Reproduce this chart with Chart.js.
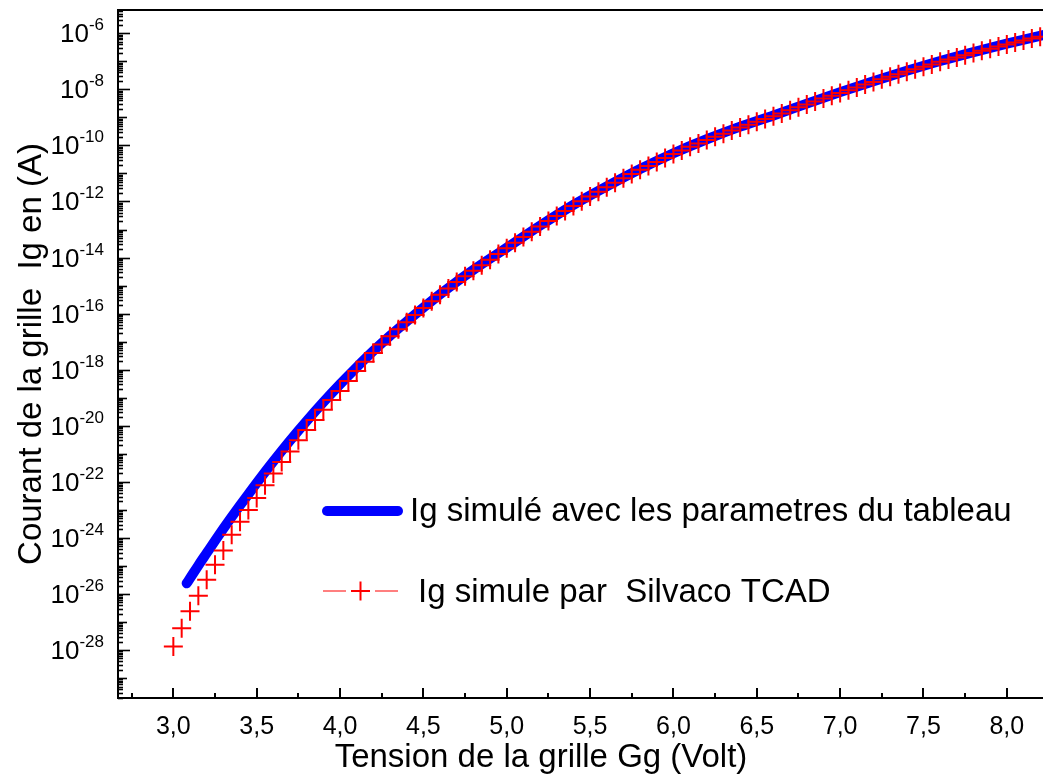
<!DOCTYPE html>
<html>
<head>
<meta charset="utf-8">
<script src="https://cdn.jsdelivr.net/npm/chart.js@4/dist/chart.umd.min.js"></script>
<style>
  html, body { margin: 0; padding: 0; background: #fff; }
  #wrap { width: 1043px; height: 781px; position: relative; }
</style>
</head>
<body>
<div id="wrap"><canvas id="myChart"></canvas></div>
<script>
const ctx = document.getElementById('myChart');

// Silvaco TCAD points (red crosses): gate voltage and log10 of the current
var silvacoV = [3.00, 3.05, 3.10, 3.15, 3.20, 3.25, 3.30, 3.35, 3.40, 3.45,
    3.50, 3.55, 3.60, 3.65, 3.70, 3.75, 3.80, 3.85, 3.90, 3.95,
    4.00, 4.05, 4.10, 4.15, 4.20, 4.25, 4.30, 4.35, 4.40, 4.45,
    4.50, 4.55, 4.60, 4.65, 4.70, 4.75, 4.80, 4.85, 4.90, 4.95,
    5.00, 5.05, 5.10, 5.15, 5.20, 5.25, 5.30, 5.35, 5.40, 5.45,
    5.50, 5.55, 5.60, 5.65, 5.70, 5.75, 5.80, 5.85, 5.90, 5.95,
    6.00, 6.05, 6.10, 6.15, 6.20, 6.25, 6.30, 6.35, 6.40, 6.45,
    6.50, 6.55, 6.60, 6.65, 6.70, 6.75, 6.80, 6.85, 6.90, 6.95,
    7.00, 7.05, 7.10, 7.15, 7.20, 7.25, 7.30, 7.35, 7.40, 7.45,
    7.50, 7.55, 7.60, 7.65, 7.70, 7.75, 7.80, 7.85, 7.90, 7.95,
    8.00, 8.05, 8.10, 8.15, 8.20];
var silvacoExp = [-27.87, -27.22, -26.62, -26.06, -25.49, -24.96, -24.45, -23.89, -23.42, -23.00,
    -22.58, -22.12, -21.70, -21.29, -20.92, -20.52, -20.15, -19.79, -19.43, -19.08,
    -18.76, -18.40, -18.05, -17.72, -17.40, -17.10, -16.81, -16.56, -16.31, -16.05,
    -15.80, -15.56, -15.33, -15.10, -14.87, -14.67, -14.47, -14.27, -14.08, -13.87,
    -13.67, -13.47, -13.27, -13.08, -12.89, -12.70, -12.52, -12.34, -12.16, -11.99,
    -11.82, -11.65, -11.49, -11.33, -11.17, -11.02, -10.87, -10.73, -10.59, -10.45,
    -10.31, -10.18, -10.05, -9.93, -9.81, -9.69, -9.58, -9.47, -9.36, -9.26,
    -9.16, -9.06, -8.96, -8.86, -8.75, -8.64, -8.54, -8.43, -8.33, -8.23,
    -8.13, -8.03, -7.93, -7.83, -7.74, -7.64, -7.55, -7.46, -7.37, -7.28,
    -7.19, -7.11, -7.02, -6.94, -6.86, -6.78, -6.70, -6.62, -6.55, -6.47,
    -6.40, -6.33, -6.26, -6.19, -6.12];

// model curve (blue line)
var modelV = [3.08, 3.10, 3.15, 3.20, 3.25, 3.30, 3.35, 3.40, 3.45, 3.50,
    3.60, 3.70, 3.80, 3.90, 4.00, 4.10, 4.20, 4.30, 4.40,
    4.50, 4.60, 4.70, 4.80, 4.90, 5.00, 5.20, 5.40, 5.60, 5.80,
    6.00, 6.20, 6.40, 6.60, 6.80, 7.00, 7.20, 7.40, 7.60, 7.80,
    8.00, 8.25];
var modelExp = [-25.62, -25.44, -24.98, -24.54, -24.10, -23.67, -23.25, -22.84, -22.44, -22.04,
    -21.27, -20.53, -19.83, -19.16, -18.52, -17.91, -17.33, -16.79, -16.28,
    -15.79, -15.31, -14.86, -14.44, -14.04, -13.65, -12.86, -12.12, -11.46, -10.84,
    -10.28, -9.78, -9.33, -8.93, -8.51, -8.10, -7.71, -7.34, -6.99, -6.67,
    -6.37, -6.02];

var xTicks = [3.0, 3.5, 4.0, 4.5, 5.0, 5.5, 6.0, 6.5, 7.0, 7.5, 8.0];
var yLabelExp = [-28, -26, -24, -22, -20, -18, -16, -14, -12, -10, -8, -6];

var xTitle = 'Tension de la grille Gg (Volt)';
var yTitle = 'Courant de la grille  Ig en (A)';
var legendLabels = ['Ig simulé avec les parametres du tableau', 'Ig simule par  Silvaco TCAD'];

var FONT = "'Liberation Sans', Arial, sans-serif";

function toPoints(xs, es) {
    return xs.map(function (v, i) { return { x: v, y: Math.pow(10, es[i]) }; });
}

// ticks inside the frame, superscript y labels, top line, x title and legend
const decorations = {
    id: 'decorations',
    afterDraw: function (chart) {
        var c = chart.ctx;
        var area = chart.chartArea;
        var xs = chart.scales.x, ys = chart.scales.y;
        c.save();
        c.strokeStyle = '#000';
        c.lineWidth = 2;
        c.beginPath();
        c.moveTo(area.left - 1, area.top);
        c.lineTo(area.right, area.top);
        c.stroke();

        // y ticks (inward)
        c.lineWidth = 1.6;
        for (var e = -30; e <= -5; e++) {
            for (var k = 1; k <= 9; k++) {
                var val = k * Math.pow(10, e);
                if (val < ys.min || val > ys.max) continue;
                var py = Math.round(ys.getPixelForValue(val)) + 0.5;
                var len = k === 1 ? (e % 2 === 0 ? 12 : 9) : 5;
                c.beginPath();
                c.moveTo(area.left, py);
                c.lineTo(area.left + len, py);
                c.stroke();
            }
        }
        // x ticks (inward)
        c.lineWidth = 2;
        for (var t = 2.75; t <= 8.3; t += 0.25) {
            if (t < xs.min || t > xs.max) continue;
            var px = Math.round(xs.getPixelForValue(t));
            var major = Math.abs(t * 2 - Math.round(t * 2)) < 1e-6;
            c.beginPath();
            c.moveTo(px, area.bottom);
            c.lineTo(px, area.bottom - (major ? 10 : 5));
            c.stroke();
        }

        // y labels with superscript exponent
        c.fillStyle = '#000';
        c.textBaseline = 'alphabetic';
        c.textAlign = 'left';
        yLabelExp.forEach(function (ex) {
            var py = ys.getPixelForValue(Math.pow(10, ex));
            var sup = String(ex);
            c.font = '17px ' + FONT;
            var supW = c.measureText(sup).width;
            c.font = '26px ' + FONT;
            var baseW = c.measureText('10').width;
            var right = 104;
            c.fillText('10', right - supW - baseW, py + 9);
            c.font = '17px ' + FONT;
            c.fillText(sup, right - supW, py - 3);
        });

        // x axis title
        c.font = '33px ' + FONT;
        c.textAlign = 'center';
        c.textBaseline = 'middle';
        c.fillText(xTitle, 541, 758);

        // legend
        c.textAlign = 'left';
        var ds0 = chart.data.datasets[0], ds1 = chart.data.datasets[1];
        c.lineCap = 'round';
        c.strokeStyle = ds0.borderColor;
        c.lineWidth = ds0.borderWidth;
        c.beginPath();
        c.moveTo(327, 511);
        c.lineTo(398, 511);
        c.stroke();
        c.lineCap = 'butt';
        c.strokeStyle = ds1.pointBorderColor;
        c.lineWidth = 1.2;
        c.beginPath();
        c.moveTo(323, 591); c.lineTo(346, 591);
        c.moveTo(375, 591); c.lineTo(398, 591);
        c.stroke();
        c.lineWidth = ds1.pointBorderWidth;
        c.beginPath();
        c.moveTo(351, 591); c.lineTo(370, 591);
        c.moveTo(360.5, 581.5); c.lineTo(360.5, 600.5);
        c.stroke();
        c.fillText(legendLabels[0], 410, 512);
        c.fillText(legendLabels[1], 418, 593);
        c.restore();
    }
};

const chart = new Chart(ctx, {
    type: 'line',
    data: {
        datasets: [{
            label: legendLabels[0],
            data: toPoints(modelV, modelExp),
            borderColor: '#0000ff',
            borderWidth: 10,
            borderCapStyle: 'round',
            pointRadius: 0,
            cubicInterpolationMode: 'monotone',
            fill: false,
            order: 1
        }, {
            label: legendLabels[1],
            data: toPoints(silvacoV, silvacoExp),
            showLine: false,
            pointStyle: 'cross',
            pointRadius: 9.5,
            pointBorderColor: '#ff0000',
            pointBorderWidth: 2,
            pointBackgroundColor: '#ff0000',
            order: 0
        }]
    },
    options: {
        responsive: true,
        maintainAspectRatio: false,
        animation: false,
        layout: { autoPadding: false, padding: { top: 10, right: 0, left: 0, bottom: 0 } },
        plugins: {
            legend: { display: false },
            tooltip: { enabled: false }
        },
        scales: {
            x: {
                type: 'linear',
                min: 2.668,
                max: 8.217,
                grid: { display: false, drawTicks: false },
                border: { display: true, color: '#000', width: 2 },
                afterBuildTicks: function (scale) {
                    scale.ticks = xTicks.map(function (v) { return { value: v }; });
                },
                afterFit: function (scale) {
                    scale.height = 83;
                    scale.paddingLeft = 0;
                    scale.paddingRight = 0;
                },
                ticks: {
                    color: '#000',
                    font: { family: FONT, size: 25 },
                    padding: 14,
                    maxRotation: 0,
                    autoSkip: false,
                    callback: function (v) { return Number(v).toFixed(1).replace('.', ','); }
                },
                title: { display: false }
            },
            y: {
                type: 'logarithmic',
                min: Math.pow(10, -29.71),
                max: Math.pow(10, -5.17),
                grid: { display: false, drawTicks: false },
                border: { display: true, color: '#000', width: 2 },
                afterFit: function (scale) {
                    scale.width = 118;
                    scale.paddingTop = 0;
                    scale.paddingBottom = 0;
                },
                ticks: { display: false },
                title: {
                    display: true,
                    text: yTitle,
                    color: '#000',
                    font: { family: FONT, size: 33 },
                    padding: { top: 12, bottom: 0 }
                }
            }
        }
    },
    plugins: [decorations]
});
</script>
</body>
</html>
